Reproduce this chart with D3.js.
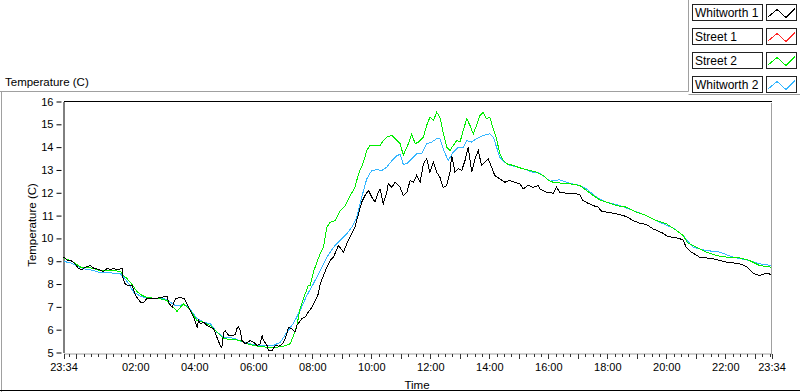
<!DOCTYPE html>
<html>
<head>
<meta charset="utf-8">
<script src="https://cdn.jsdelivr.net/npm/d3@7"></script>
<style>
  body { margin: 0; background: #fff; }
  text { font-family: "Liberation Sans", Arial, sans-serif; fill: #000; }
</style>
</head>
<body>
<svg id="chart" width="800" height="392"></svg>
<script>
// readings as [hours after 23:34, temperature C]
var whitworth1 = [
  [0.01,9.18],[0.13,9.03],[0.24,9.03],[0.34,8.96],[0.51,8.68],[0.63,8.64],[0.74,8.74],[0.91,8.81],[1.03,8.69],[1.19,8.64],
  [1.35,8.55],[1.48,8.68],[1.59,8.64],[1.69,8.68],[1.82,8.64],[1.99,8.67],[2.02,8.24],[2.10,7.98],[2.20,7.94],[2.33,7.94],
  [2.44,7.50],[2.61,7.20],[2.72,7.20],[2.83,7.37],[3.00,7.38],[3.17,7.38],[3.34,7.42],[3.51,7.47],[3.56,7.20],[3.68,6.98],
  [3.79,7.35],[3.96,7.42],[4.10,7.35],[4.19,7.13],[4.30,6.84],[4.41,6.55],[4.53,6.11],[4.58,6.40],[4.64,6.26],[4.75,6.33],
  [4.86,6.18],[4.98,6.11],[5.09,6.04],[5.20,5.67],[5.31,5.31],[5.37,5.23],[5.43,5.89],[5.48,5.96],[5.60,5.74],[5.71,5.74],
  [5.82,5.78],[5.88,6.04],[5.93,6.11],[5.99,5.96],[6.05,5.53],[6.16,5.38],[6.33,5.53],[6.44,5.45],[6.56,5.31],[6.67,5.38],
  [6.73,5.74],[6.78,5.53],[6.90,5.31],[6.95,5.09],[7.07,5.09],[7.18,5.31],[7.29,5.28],[7.40,5.34],[7.52,5.60],[7.63,6.11],
  [7.74,6.04],[7.85,5.89],[7.91,6.18],[8.08,6.48],[8.19,6.55],[8.30,6.77],[8.42,6.98],[8.53,7.28],[8.64,7.57],[8.70,8.01],
  [8.93,8.74],[9.04,9.03],[9.15,9.18],[9.32,9.69],[9.49,9.40],[9.60,9.76],[9.77,10.20],[9.88,10.49],[10.00,11.08],[10.11,11.59],
  [10.22,11.88],[10.34,12.10],[10.45,11.81],[10.56,11.59],[10.67,12.02],[10.73,12.17],[10.84,11.52],[10.96,12.02],[11.01,12.39],[11.13,12.24],
  [11.24,12.46],[11.35,12.32],[11.41,12.24],[11.52,11.88],[11.64,12.02],[11.75,12.54],[11.86,12.46],[11.97,12.76],[12.09,12.46],[12.20,13.27],
  [12.31,13.49],[12.42,12.90],[12.54,13.34],[12.65,12.90],[12.76,12.68],[12.87,12.22],[12.99,12.32],[13.10,12.90],[13.16,13.63],[13.27,12.90],
  [13.38,13.05],[13.50,12.98],[13.61,13.41],[13.72,14.00],[13.84,12.90],[13.95,13.49],[14.06,13.85],[14.17,13.20],[14.29,13.34],[14.40,13.49],
  [14.51,13.12],[14.62,12.76],[14.79,12.61],[14.96,12.46],[15.13,12.54],[15.30,12.46],[15.47,12.39],[15.58,12.17],[15.75,12.32],[15.92,12.24],
  [16.09,12.32],[16.15,12.17],[16.37,12.03],[16.60,11.98],[16.71,12.24],[16.82,12.03],[17.05,11.98],[17.27,11.98],[17.50,11.92],[17.61,11.66],
  [17.78,11.54],[17.95,11.44],[18.12,11.37],[18.24,11.19],[18.41,11.15],[18.74,11.08],[19.08,10.96],[19.31,10.78],[19.53,10.67],[19.76,10.61],
  [19.98,10.42],[20.32,10.23],[20.49,10.08],[20.78,10.03],[21.00,9.94],[21.11,9.61],[21.28,9.40],[21.56,9.18],[22.01,9.11],[22.47,8.96],
  [22.92,8.89],[23.15,8.77],[23.37,8.48],[23.60,8.37],[23.82,8.48],[23.99,8.42]
];

var street1 = [];  // not visible in the picture

var street2 = [
  [0.01,9.13],[0.24,9.03],[0.41,8.89],[0.58,8.74],[0.80,8.74],[1.03,8.67],[1.25,8.59],[1.48,8.59],[1.70,8.59],[1.93,8.55],
  [2.04,8.37],[2.16,8.23],[2.33,7.97],[2.49,7.67],[2.66,7.50],[2.83,7.42],[3.06,7.38],[3.28,7.35],[3.51,7.28],[3.62,7.06],
  [3.73,6.98],[3.85,6.80],[3.96,6.98],[4.07,7.13],[4.19,6.98],[4.30,6.84],[4.41,6.62],[4.53,6.40],[4.75,6.33],[4.98,6.18],
  [5.20,5.89],[5.43,5.60],[5.77,5.57],[5.99,5.53],[6.22,5.38],[6.56,5.28],[6.90,5.23],[7.23,5.23],[7.46,5.28],[7.68,5.38],
  [7.80,5.74],[7.91,6.18],[8.02,6.92],[8.13,7.35],[8.30,7.94],[8.36,7.94],[8.47,8.52],[8.59,8.96],[8.70,9.33],[8.81,9.61],
  [8.93,10.49],[9.04,10.71],[9.21,10.78],[9.38,11.22],[9.55,11.44],[9.72,11.88],[9.88,12.24],[10.00,12.83],[10.17,13.34],[10.28,13.85],
  [10.39,14.07],[10.56,14.07],[10.73,14.07],[10.84,14.29],[10.96,14.44],[11.13,14.51],[11.24,14.37],[11.41,14.15],[11.52,13.65],[11.69,14.15],
  [11.80,14.58],[11.92,14.15],[12.03,14.22],[12.20,14.44],[12.31,14.95],[12.42,15.31],[12.54,15.17],[12.65,15.53],[12.76,15.31],[12.87,14.65],
  [12.99,14.00],[13.10,13.85],[13.21,14.07],[13.33,14.29],[13.44,14.22],[13.55,14.73],[13.67,15.24],[13.78,14.95],[13.89,14.58],[14.00,14.95],
  [14.12,15.39],[14.23,15.53],[14.34,15.24],[14.45,15.31],[14.57,14.80],[14.68,14.37],[14.79,13.71],[14.91,13.41],[15.02,13.27],[15.24,13.20],
  [15.41,13.12],[15.58,13.05],[15.81,12.98],[16.04,12.90],[16.26,12.76],[16.43,12.54],[16.60,12.46],[16.82,12.43],[17.16,12.39],[17.50,12.32],
  [17.73,12.10],[17.95,11.88],[18.18,11.69],[18.41,11.59],[18.74,11.44],[19.08,11.37],[19.42,11.15],[19.76,11.00],[20.10,10.78],[20.44,10.64],
  [20.78,10.35],[21.00,10.13],[21.17,9.79],[21.45,9.61],[21.79,9.40],[22.13,9.25],[22.47,9.18],[22.92,9.15],[23.26,9.03],[23.60,8.81],
  [23.99,8.74]
];

var whitworth2 = [
  [0.01,8.99],[0.24,8.93],[0.46,8.78],[0.69,8.67],[1.03,8.59],[1.25,8.49],[1.59,8.49],[1.93,8.45],[2.04,8.30],[2.21,8.01],
  [2.38,7.64],[2.61,7.47],[2.83,7.38],[3.17,7.38],[3.40,7.38],[3.62,7.20],[3.79,7.06],[3.96,7.06],[4.07,7.13],[4.24,6.98],
  [4.41,6.70],[4.53,6.48],[4.75,6.33],[4.98,6.26],[5.20,5.89],[5.43,5.67],[5.77,5.63],[6.10,5.45],[6.44,5.34],[6.78,5.31],
  [7.12,5.31],[7.35,5.45],[7.57,5.88],[7.80,6.29],[8.02,6.84],[8.25,7.50],[8.47,8.01],[8.70,8.59],[8.93,9.18],[9.15,9.61],
  [9.38,9.91],[9.60,10.20],[9.77,10.49],[9.94,10.93],[10.11,11.81],[10.28,12.61],[10.45,12.98],[10.62,13.01],[10.79,12.98],[10.96,13.12],
  [11.13,13.41],[11.30,13.63],[11.41,13.68],[11.52,13.24],[11.64,13.28],[11.80,13.49],[11.97,13.71],[12.14,13.71],[12.31,14.15],[12.48,14.22],
  [12.65,14.37],[12.76,14.37],[12.87,13.93],[13.04,13.41],[13.21,13.78],[13.38,14.00],[13.55,14.00],[13.67,14.29],[13.84,14.22],[14.00,14.37],
  [14.23,14.51],[14.45,14.58],[14.57,14.44],[14.68,14.00],[14.79,13.56],[14.96,13.34],[15.13,13.20],[15.36,13.15],[15.58,13.05],[15.92,12.90],
  [16.15,12.86],[16.49,12.51],[16.82,12.57],[17.16,12.42],[17.50,12.32],[17.73,12.17],[18.07,11.81],[18.41,11.59],[18.86,11.44],[19.31,11.22],
  [19.76,11.00],[20.21,10.71],[20.66,10.46],[21.00,10.13],[21.34,9.61],[21.79,9.47],[22.24,9.40],[22.69,9.18],[23.15,9.06],[23.60,8.89],
  [23.99,8.81]
];

var seriesNames = ["Whitworth 1", "Street 1", "Street 2", "Whitworth 2"];
var seriesColors = ["#000000", "#ff2a2a", "#00ee00", "#35b6ff"];
var yTicks = [5, 6, 7, 8, 9, 10, 11, 12, 13, 14, 15, 16];
var xTickLabels = ["23:34", "02:00", "04:00", "06:00", "08:00", "10:00", "12:00", "14:00", "16:00", "18:00", "20:00", "22:00", "23:34"];

var svg = d3.select("#chart");

var start = new Date(2000, 0, 1, 23, 34),
    end = new Date(2000, 0, 2, 23, 34);
function toDate(h) { return new Date(start.getTime() + h * 3600e3); }

var plotLeft = 63, plotRight = 771.5, plotTop = 101.5, plotBottom = 352.5;

var x = d3.scaleTime().domain([start, end]).range([plotLeft + 0.5, plotRight]);
var y = d3.scaleLinear().domain([5, 16]).range([plotBottom, plotTop]);

// outer panel frame
svg.append("path").attr("d", "M0,91.5H688.5V0").attr("fill", "none").attr("stroke", "#a0a0a0");
svg.append("path").attr("d", "M688.5,94.5H800").attr("fill", "none").attr("stroke", "#a0a0a0");
svg.append("path").attr("d", "M1.5,91.5V392").attr("fill", "none").attr("stroke", "#a0a0a0");
svg.append("path").attr("d", "M0,390.5H800").attr("fill", "none").attr("stroke", "#000");

svg.append("text").attr("x", 5).attr("y", 86).style("font-size", "11.5px").text("Temperature (C)");

// plot frame
svg.append("path").attr("d", "M" + (plotLeft + 0.5) + "," + plotTop + "H" + plotRight)
    .attr("fill", "none").attr("stroke", "#000").attr("shape-rendering", "crispEdges");
svg.append("path").attr("d", "M" + plotRight + "," + (plotTop + 1) + "V" + (plotBottom + 1))
    .attr("fill", "none").attr("stroke", "#a0a0a0").attr("shape-rendering", "crispEdges");

// y axis
var yAxis = svg.append("g").attr("transform", "translate(" + (plotLeft + 0.5) + ",0)")
    .call(d3.axisLeft(y).tickValues(yTicks).tickSize(7).tickSizeOuter(0).tickPadding(3));
yAxis.select(".domain").attr("stroke", "#000");
yAxis.selectAll(".tick line").attr("x1", -2).attr("x2", -7);
yAxis.selectAll("text").style("font-size", "11px").style("font-family", "Liberation Sans, Arial, sans-serif").attr("fill", "#000");

// x axis
var majorDates = xTickLabels.map(function(s, i) {
  if (i === 0) return start;
  if (i === xTickLabels.length - 1) return end;
  var p = s.split(":");
  return new Date(2000, 0, 2, +p[0], +p[1]);
});
var fmt = function(d, i) { return xTickLabels[i]; };

var quarter = d3.timeMinute.every(15).range(start, end);
var hours = quarter.filter(function(d) { return d.getMinutes() === 0; });

var xg = svg.append("g").attr("transform", "translate(0," + (plotBottom + 1) + ")");
xg.append("g").call(d3.axisBottom(x).tickValues(quarter).tickFormat("").tickSize(3).tickSizeOuter(0))
  .select(".domain").attr("stroke", "#a0a0a0");
xg.append("g").call(d3.axisBottom(x).tickValues(hours).tickFormat("").tickSize(5).tickSizeOuter(0))
  .select(".domain").remove();
var xAxis = xg.append("g").call(d3.axisBottom(x).tickValues(majorDates).tickFormat(fmt).tickSize(5).tickSizeOuter(0).tickPadding(5));
xAxis.select(".domain").remove();
xAxis.selectAll("text").style("font-size", "11px").style("font-family", "Liberation Sans, Arial, sans-serif").attr("fill", "#000");
xg.selectAll(".tick line").attr("stroke", "#333").attr("shape-rendering", "crispEdges");

svg.append("text").attr("x", 417).attr("y", 389).attr("text-anchor", "middle").style("font-size", "11.5px").text("Time");
svg.append("text").attr("transform", "translate(36,225) rotate(-90)").attr("text-anchor", "middle")
    .style("font-size", "11.5px").text("Temperature (C)");

// data lines
var line = d3.line()
    .x(function(d) { return x(toDate(d[0])); })
    .y(function(d) { return y(d[1]); });

var allSeries = [whitworth1, street1, street2, whitworth2];
var drawOrder = [3, 1, 2, 0];
drawOrder.forEach(function(i) {
  if (!allSeries[i].length) return;
  svg.append("path").datum(allSeries[i])
    .attr("d", line)
    .attr("fill", "none")
    .attr("stroke", seriesColors[i])
    .attr("stroke-width", 1)
    .attr("shape-rendering", "crispEdges");
});

// legend
var legend = svg.append("g").selectAll("g").data(seriesNames).enter().append("g")
    .attr("transform", function(d, i) { return "translate(0," + (4 + i * 24) + ")"; });
legend.append("rect").attr("x", 692.5).attr("y", 0.5).attr("width", 70).attr("height", 16)
    .attr("fill", "#fff").attr("stroke", "#222");
legend.append("text").attr("x", 695).attr("y", 13).style("font-size", "12px").text(function(d) { return d; });
legend.append("rect").attr("x", 766.5).attr("y", 0.5).attr("width", 30).attr("height", 16)
    .attr("fill", "#fff").attr("stroke", "#222");
legend.append("path")
    .attr("d", "M768,13L777,5.5L786,13.5L795,4.5")
    .attr("fill", "none")
    .attr("stroke", function(d, i) { return seriesColors[i]; })
    .attr("shape-rendering", "crispEdges");
</script>
</body>
</html>
